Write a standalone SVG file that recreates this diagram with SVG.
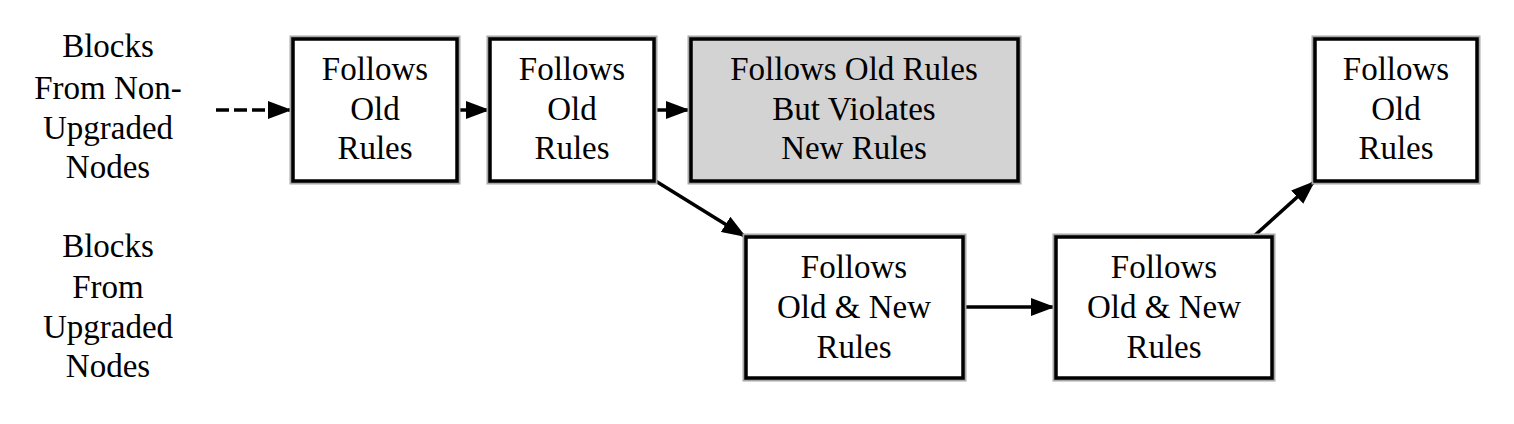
<svg xmlns="http://www.w3.org/2000/svg" width="1514" height="424" viewBox="0 0 1514 424">
<style>
text{font-family:"Liberation Serif","Times New Roman",serif;font-size:33px;fill:#000;text-anchor:middle}
.halo{fill:none;stroke:#a8a8a8;stroke-width:7}
.box{fill:#fff;stroke:#000;stroke-width:3.5}
.grey{fill:#d3d3d3}
.edge{fill:none;stroke:#000;stroke-width:3.5}
.dash{stroke-dasharray:13 5}
</style>
<defs>
<marker id="arr" viewBox="0 0 24 18" refX="24" refY="9" markerWidth="24" markerHeight="18" markerUnits="userSpaceOnUse" orient="auto">
<path d="M0,0 L24,9 L0,18 Z" fill="#000"/>
</marker>
</defs>
<rect width="1514" height="424" fill="#fff"/>
<g id="label-nonupgraded">
<text x="108" y="57">Blocks</text>
<text x="108" y="99">From Non-</text>
<text x="108" y="139">Upgraded</text>
<text x="108" y="178">Nodes</text>
</g>
<g id="label-upgraded">
<text x="108" y="257">Blocks</text>
<text x="108" y="298">From</text>
<text x="108" y="338">Upgraded</text>
<text x="108" y="377">Nodes</text>
</g>
<g id="edges">
<path class="edge dash" d="M216,110 L292,110" marker-end="url(#arr)"/>
<path class="edge" d="M457,110 L490,110" marker-end="url(#arr)"/>
<path class="edge" d="M654,110 L690,110" marker-end="url(#arr)"/>
<path class="edge" d="M654,180 L746,237" marker-end="url(#arr)"/>
<path class="edge" d="M963,307 L1055,307" marker-end="url(#arr)"/>
<path class="edge" d="M1253,237 L1315,181" marker-end="url(#arr)"/>
</g>
<g id="n1">
<rect class="halo" x="293" y="39" width="164" height="142"/>
<rect class="box" x="293" y="39" width="164" height="142"/>
<text x="375" y="80">Follows</text>
<text x="375" y="120">Old</text>
<text x="375" y="159">Rules</text>
</g>
<g id="n2">
<rect class="halo" x="490" y="39" width="164" height="142"/>
<rect class="box" x="490" y="39" width="164" height="142"/>
<text x="572" y="80">Follows</text>
<text x="572" y="120">Old</text>
<text x="572" y="159">Rules</text>
</g>
<g id="n3">
<rect class="halo" x="691" y="39" width="327" height="142"/>
<rect class="box grey" x="691" y="39" width="327" height="142"/>
<text x="854" y="80">Follows Old Rules</text>
<text x="854" y="120">But Violates</text>
<text x="854" y="159">New Rules</text>
</g>
<g id="n4">
<rect class="halo" x="746" y="237" width="217" height="141"/>
<rect class="box" x="746" y="237" width="217" height="141"/>
<text x="854" y="278">Follows</text>
<text x="854" y="318">Old &amp; New</text>
<text x="854" y="358">Rules</text>
</g>
<g id="n5">
<rect class="halo" x="1056" y="237" width="216" height="141"/>
<rect class="box" x="1056" y="237" width="216" height="141"/>
<text x="1164" y="278">Follows</text>
<text x="1164" y="318">Old &amp; New</text>
<text x="1164" y="358">Rules</text>
</g>
<g id="n6">
<rect class="halo" x="1315" y="39" width="162" height="142"/>
<rect class="box" x="1315" y="39" width="162" height="142"/>
<text x="1396" y="80">Follows</text>
<text x="1396" y="120">Old</text>
<text x="1396" y="159">Rules</text>
</g>
</svg>
